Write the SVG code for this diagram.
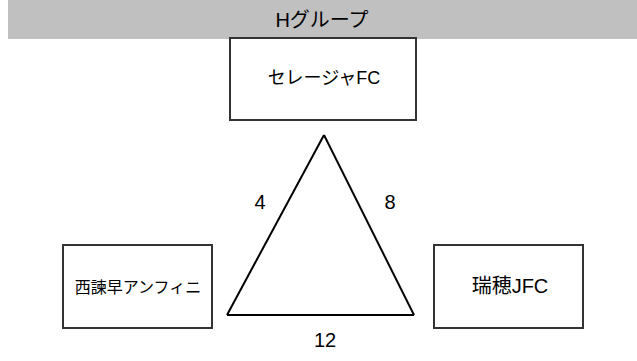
<svg xmlns="http://www.w3.org/2000/svg" width="637" height="361" viewBox="0 0 637 361">
<style>
text{font-family:"Liberation Sans","Noto Sans CJK JP",sans-serif;font-size:16px;fill:#000;text-anchor:middle;dominant-baseline:central}
.big{font-size:20px}
.box{fill:#fff;stroke:#333;stroke-width:2}
.edge{fill:none;stroke:#000;stroke-width:2}
</style>
<rect width="637" height="361" fill="#fff"/>
<g id="header">
<rect x="8" y="0" width="629" height="39" fill="#c0c0c0"/>
<text class="big" x="322" y="20">Hグループ</text>
</g>
<g id="connectors">
<line class="edge" x1="324" y1="135" x2="227" y2="315"/>
<line class="edge" x1="324" y1="135" x2="414" y2="315"/>
<line class="edge" x1="227" y1="315" x2="414" y2="315"/>
<text class="big" x="260" y="202">4</text>
<text class="big" x="390" y="202">8</text>
<text class="big" x="325" y="340">12</text>
</g>
<g id="node-top">
<rect class="box" x="230" y="38" width="186" height="82"/>
<text x="324" y="78" style="font-size:18px">セレージャFC</text>
</g>
<g id="node-left">
<rect class="box" x="63" y="245" width="149" height="83"/>
<text x="138" y="287">西諫早アンフィニ</text>
</g>
<g id="node-right">
<rect class="box" x="434" y="245" width="149" height="83"/>
<text class="big" x="510" y="286">瑞穂JFC</text>
</g>
</svg>
